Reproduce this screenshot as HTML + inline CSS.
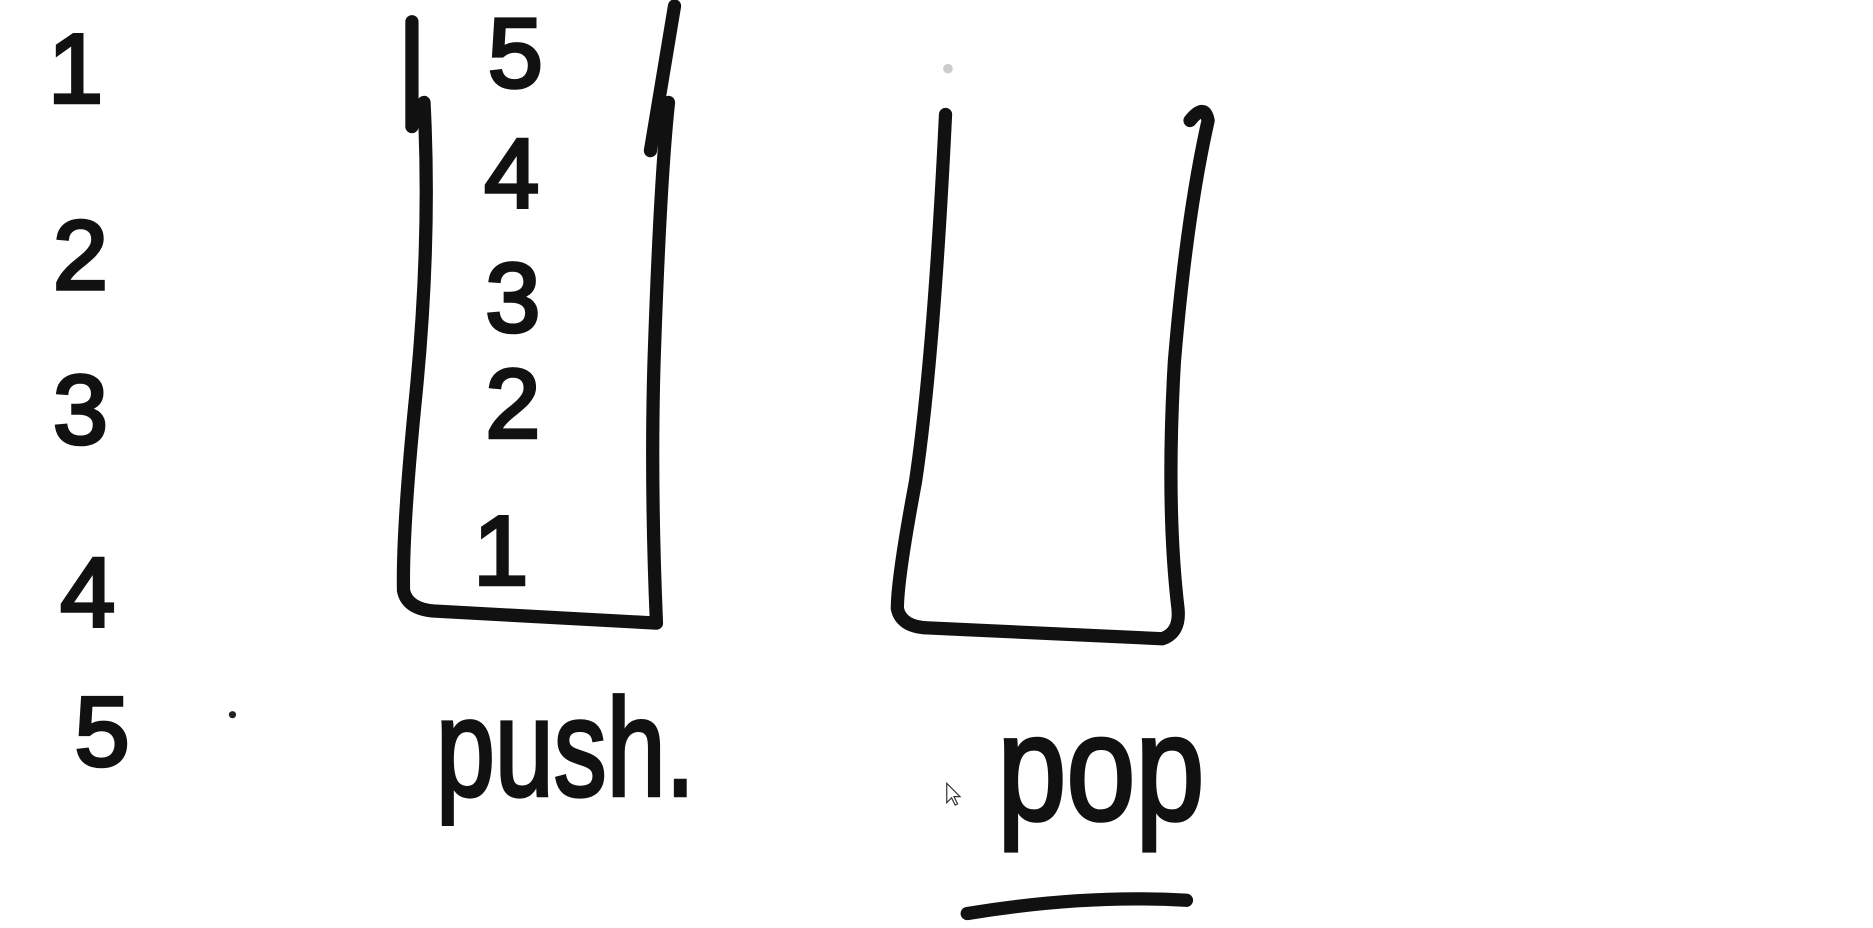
<!DOCTYPE html>
<html><head><meta charset="utf-8"><style>
html,body{margin:0;padding:0;background:#fff;}
svg{display:block;}
text{font-family:"Liberation Sans",sans-serif;fill:#111;stroke:#111;stroke-width:3;}
</style></head><body>
<svg width="1873" height="928" viewBox="0 0 1555 770" preserveAspectRatio="none" xmlns="http://www.w3.org/2000/svg">
<rect width="1555" height="770" fill="#fff"/>
<g font-size="82">
<text x="40" y="85">1</text>
<text x="44" y="240">2</text>
<text x="44" y="368">3</text>
<text x="50" y="520">4</text>
<text x="62" y="635">5</text>
</g>
<circle cx="193" cy="593" r="3" fill="#222"/>
<g fill="none" stroke="#111" stroke-width="11" stroke-linecap="round" stroke-linejoin="round">
<path d="M352 85 Q358 200 345 330 Q334 440 335 490 Q338 505 360 507 L545 517 Q540 400 543 300 Q548 150 555 85"/>
<path d="M342 18 L342 105"/>
<path d="M560 5 L540 125"/>
<path d="M785 95 Q775 300 760 400 Q745 480 745 505 Q748 520 770 521 L965 530 Q980 525 978 505 Q968 420 975 300 Q985 180 1003 100 Q1000 85 988 100"/>
<path d="M803 758 Q900 742 985 747"/>
</g>
<circle cx="787" cy="57" r="4" fill="#ccc"/>
<g font-size="82">
<text x="405" y="72">5</text>
<text x="402" y="172">4</text>
<text x="403" y="275">3</text>
<text x="403" y="363">2</text>
<text x="393" y="485">1</text>
</g>
<text x="362" y="660" font-size="115" textLength="215" lengthAdjust="spacingAndGlyphs">push.</text>
<text x="828" y="680" font-size="125" textLength="172" lengthAdjust="spacingAndGlyphs">pop</text>
<path d="M786 650 L786 666 L790 662 L793 668 L795 667 L792 661 L797 661 Z" fill="#fff" stroke="#333" stroke-width="1"/>
</svg>
</body></html>
